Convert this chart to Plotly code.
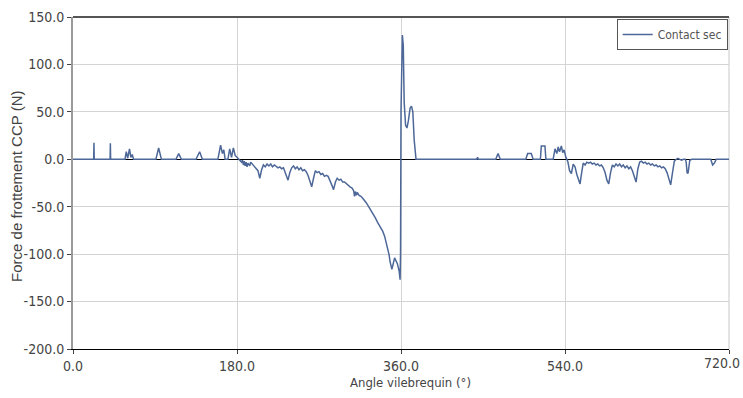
import plotly.graph_objects as go

angle = [0, 22.7, 23, 23.3, 40.7, 41, 41.3, 57, 58.5, 60, 62, 63.5, 65, 66.5,
         91, 94, 97, 113, 116, 119, 135, 139, 142, 159, 162, 164, 165.5, 167,
         170, 172, 174, 176, 178, 181, 183, 185, 186, 187, 188, 189, 190, 191, 192, 194, 195, 197, 199,
         201, 203, 205, 207, 209, 211, 213, 215, 217, 219, 221, 223, 225, 227, 229, 231, 234, 236, 238,
         240, 242, 244, 246, 248, 250, 252, 254, 256, 258, 260, 262, 264, 266, 268, 270, 272, 274, 276,
         278, 280, 282, 284, 286, 288, 290, 292, 294, 296, 298, 300, 302, 304, 306, 308, 309, 310, 311,
         312, 314, 316, 318, 320, 322, 324, 326, 328, 330, 332, 334, 336, 338, 340, 342, 344, 346, 347,
         348, 349, 350, 351, 352, 353, 354, 355, 356, 357, 358, 359, 359.5, 360, 360.5, 361.5, 362.5,
         363.5, 365, 366.5, 368, 370, 371.5, 373, 374.5, 376.5,
         443, 444, 445, 464, 466.5, 469, 497, 499, 503, 505, 513, 514, 518, 519,
         527, 529, 531, 532.5, 534, 536, 537.5, 539, 541, 543, 545, 547, 549, 551, 553, 555, 556.5, 558,
         560, 562, 564, 566, 568, 570, 572, 574, 576, 578, 580, 582, 584, 586, 588, 590, 592, 594, 596,
         598, 600, 602, 604, 606, 608, 610, 612, 614, 616, 618, 620, 622, 624, 626, 628, 630, 632, 634,
         636, 638, 640, 642, 644, 646, 648, 650, 652, 654, 656, 658, 660, 662, 664, 666, 668, 670, 672,
         673, 674, 675, 676, 677, 679, 700, 702, 704, 706, 720]

force = [0, 0, 17.5, 0, 0, 17, 0, 0, 8, 1, 11, 2, 5, 0,
         0, 12, 0, 0, 6, 0, 0, 8, 0, 0, 15, 6, 10, 0,
         0, 11, 2, 12, 4, 1, -1, -3, -1, -6, -2, -7, -3, -8, -4, -7, -3, -5, -8,
         -9, -12, -20, -11, -6, -8, -5, -7, -5, -8, -6, -8, -9, -8, -10, -9, -17, -22, -14,
         -9, -7, -10, -8, -11, -9, -12, -11, -13, -17, -24, -29, -20, -12, -14, -13, -16, -15, -18,
         -17, -18, -22, -27, -32, -24, -20, -22, -21, -24, -24, -26, -27, -29, -30, -33, -39, -34, -38,
         -35, -38, -39, -41, -43, -46, -49, -52, -55, -58, -62, -66, -69, -72, -76, -81, -88, -95, -101,
         -108, -112, -116, -112, -106, -104, -106, -108, -110, -114, -118, -127, -100, 50, 110, 131, 120,
         60, 36, 33, 40, 54, 56, 50, 20, 0,
         0, 2, 0, 0, 6, 0, 0, 6, 6, 0, 0, 14, 14, 0,
         0, 11, 6, 13, 8, 14, 7, 10, 2, -2, -12, -15, -5, -8, -16, -22, -26, -16,
         -4, -6, -3, -4, -3, -5, -4, -6, -5, -7, -6, -9, -14, -22, -26, -14, -6, -8, -5,
         -7, -5, -8, -6, -9, -7, -10, -8, -12, -18, -24, -10, -3, -2, -4, -3, -5, -4, -6,
         -5, -7, -6, -8, -7, -9, -8, -10, -14, -20, -27, -14, -2, 0, 1, 0, -1, 0, 0,
         -3, -14, -15, -5, -1, 0, 0, -6, -4, 0, 0]

series_name = "Contact sec"
x_title = "Angle vilebrequin (°)"
y_title = "Force de frottement CCP (N)"
x_ticks = [0, 180, 360, 540, 720]
y_ticks = [-200, -150, -100, -50, 0, 50, 100, 150]

narrow = "DejaVu Sans Condensed, Liberation Sans, Arial, sans-serif"
x_labels = [f"{v:.1f}" for v in x_ticks]

fig = go.Figure()
fig.add_trace(go.Scatter(x=angle, y=force, mode="lines", name=series_name,
                         line=dict(color="#4d6898", width=1.5)))

fig.update_layout(
    width=743, height=398,
    margin=dict(l=73, r=14, t=17, b=49, autoexpand=False),
    paper_bgcolor="white", plot_bgcolor="white",
    showlegend=True,
    legend=dict(x=0.998, y=0.994, xanchor="right", yanchor="top",
                bordercolor="#555555", borderwidth=1, bgcolor="white",
                font=dict(family=narrow, size=12, color="#555555"),
                itemwidth=30, tracegroupgap=0),
    xaxis=dict(range=[0, 720], tickvals=x_ticks, ticktext=x_labels[:-1] + [""],
               automargin=False,
               showgrid=True, gridcolor="#d4d4d4", gridwidth=1,
               showline=True, linecolor="black", linewidth=1,
               ticks="outside", ticklen=4, tickcolor="#444444",
               tickfont=dict(family=narrow, size=14, color="#444444"),
               zeroline=False),
    yaxis=dict(range=[-200, 150], tickvals=y_ticks, ticktext=[f"{v:.1f}" for v in y_ticks],
               automargin=False, ticklabeloverflow="allow",
               showgrid=True, gridcolor="#d4d4d4", gridwidth=1,
               showline=True, linecolor="#9a9a9a", linewidth=2,
               ticks="outside", ticklen=4, tickcolor="#444444",
               tickfont=dict(family=narrow, size=14, color="#444444"),
               zeroline=True, zerolinecolor="black", zerolinewidth=1),
)
# last x tick label, kept inside the page edge
fig.add_annotation(text=x_labels[-1], xref="x", yref="paper", x=x_ticks[-1], y=0,
                   xanchor="right", yanchor="top", xshift=13, yshift=-4, showarrow=False,
                   font=dict(family=narrow, size=14, color="#444444"))
# axis titles
fig.add_annotation(text=x_title, xref="paper", yref="paper", x=0.514, y=-0.102,
                   xanchor="center", yanchor="middle", showarrow=False,
                   font=dict(family=narrow, size=13, color="#444444"))
fig.add_annotation(text=y_title, xref="paper", yref="paper", x=-0.0854, y=0.491,
                   xanchor="center", yanchor="middle", textangle=-90, showarrow=False,
                   font=dict(family="Liberation Sans, Arial, sans-serif", size=15, color="#444444"))
fig.add_shape(type="line", xref="paper", yref="paper", x0=0, x1=1, y0=1, y1=1,
              line=dict(color="#555555", width=2))
fig.add_shape(type="line", xref="paper", yref="paper", x0=1, x1=1, y0=0, y1=1,
              line=dict(color="#c8c8c8", width=1), layer="below")
fig.write_html("out.html")
